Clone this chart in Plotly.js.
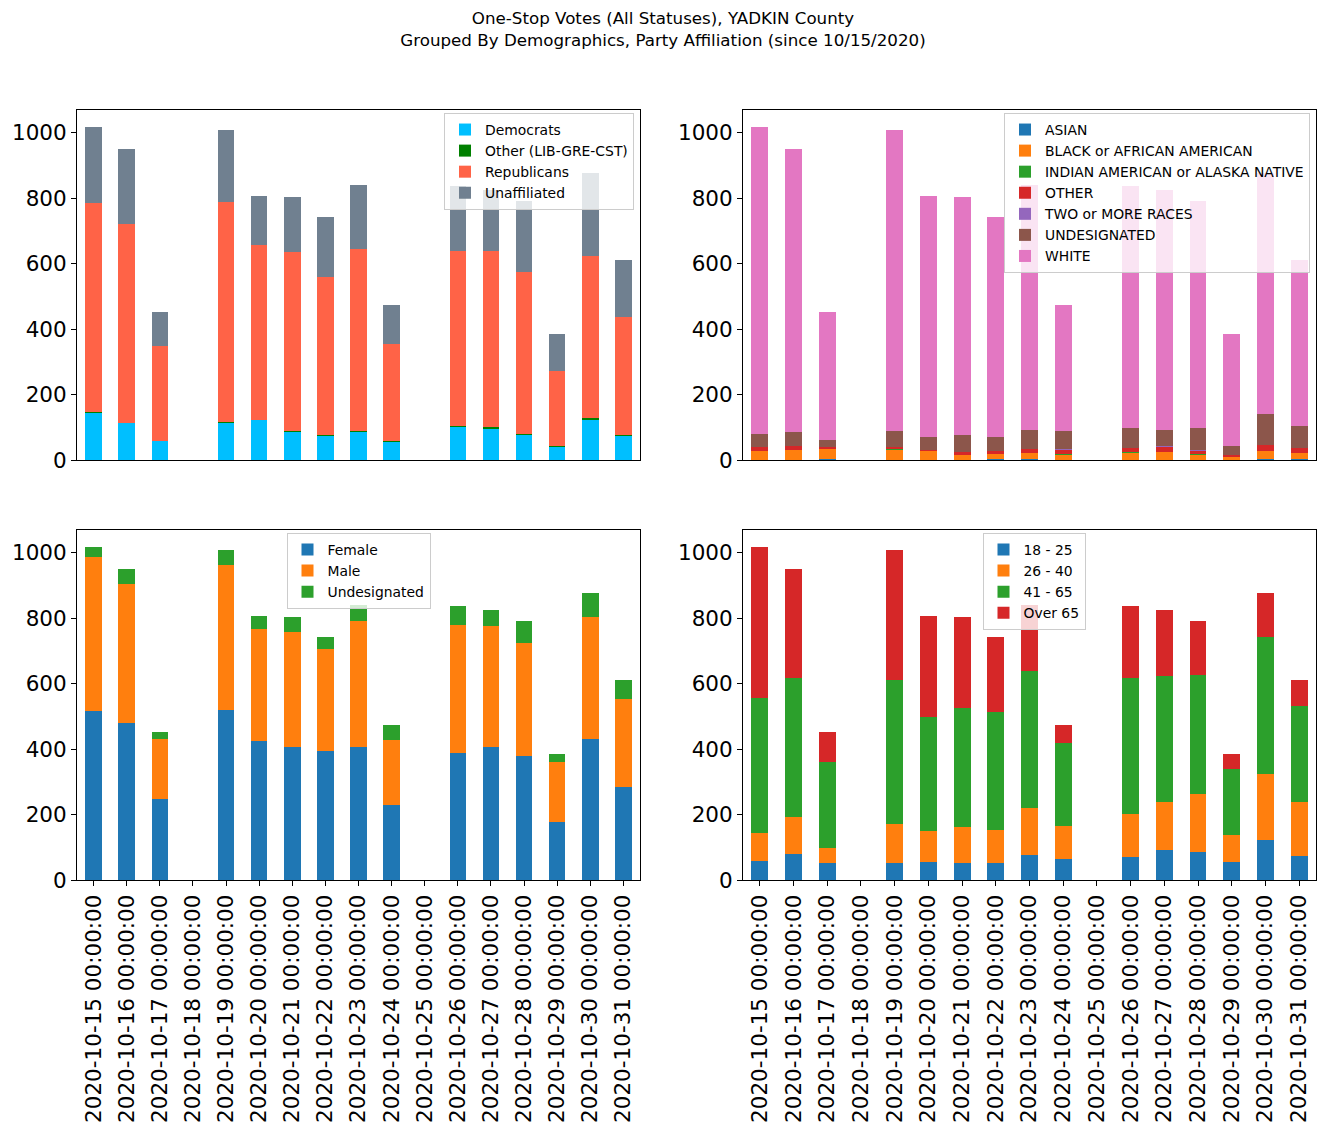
<!DOCTYPE html>
<html>
<head>
<meta charset="utf-8">
<script src="https://cdn.plot.ly/plotly-3.0.1.min.js"></script>
<style>html,body{margin:0;padding:0;background:#fff;}#chart{width:1326px;height:1137px;}</style>
</head>
<body>
<div id="chart"></div>
<script>
const dates = ['2020-10-15 00:00:00','2020-10-16 00:00:00','2020-10-17 00:00:00','2020-10-18 00:00:00','2020-10-19 00:00:00','2020-10-20 00:00:00','2020-10-21 00:00:00','2020-10-22 00:00:00','2020-10-23 00:00:00','2020-10-24 00:00:00','2020-10-25 00:00:00','2020-10-26 00:00:00','2020-10-27 00:00:00','2020-10-28 00:00:00','2020-10-29 00:00:00','2020-10-30 00:00:00','2020-10-31 00:00:00'];

// Party affiliation
const democrats    = [144,113, 58,0,114,123, 87, 74, 87, 56,0,101, 95, 77, 41,123, 74];
const otherParty   = [  3,  0,  0,0,  3,  0,  3,  3,  3,  3,0,  4,  6,  3,  3,  5,  3];
const republicans  = [637,608,291,0,672,534,546,482,555,296,0,533,537,494,228,496,360];
const unaffiliated = [233,229,103,0,219,149,167,183,195,119,0,199,187,217,113,253,174];

// Race
const asian        = [  0,  0,  3,0,  0,  0,  0,  3,  3,  0,0,  0,  0,  0,  0,  3,  3];
const black        = [ 27, 31, 31,0, 31, 27, 15, 15, 18, 15,0, 22, 24, 15,  9, 24, 18];
const indian       = [  0,  0,  0,0,  4,  0,  0,  0,  0,  3,0,  2,  0,  3,  0,  0,  0];
const otherRace    = [ 13, 12,  6,0,  5,  4,  8,  9, 13, 12,0, 13, 16, 10,  6, 19, 16];
const twoOrMore    = [  0,  0,  0,0,  0,  0,  0,  0,  0,  4,0,  0,  3,  3,  0,  0,  0];
const undesigRace  = [ 39, 43, 21,0, 49, 39, 53, 43, 58, 55,0, 61, 49, 67, 28, 95, 67];
const white        = [938,864,391,0,919,736,727,672,748,385,0,739,733,693,342,736,507];

// Gender
const female       = [516,480,247,0,519,425,406,394,406,229,0,388,406,379,177,431,284];
const male         = [471,424,184,0,443,342,352,312,385,199,0,391,370,345,183,372,269];
const undesigGender= [ 30, 46, 21,0, 46, 39, 45, 36, 49, 46,0, 58, 49, 67, 25, 74, 58];

// Age
const age18_25     = [ 58, 79, 52,0, 52, 55, 52, 52, 76, 64,0, 70, 92, 86, 55,122, 73];
const age26_40     = [ 86,114, 46,0,119, 95,110,101,144,101,0,132,146,177, 82,202,165];
const age41_65     = [413,425,264,0,441,349,363,360,418,254,0,416,386,363,202,418,294];
const ageOver65    = [460,332, 90,0,396,307,278,229,202, 55,0,219,201,165, 46,135, 79];

const groups = [
  {ax:'', leg:'legend', series:[
    ['Democrats', democrats, '#00BFFF'],
    ['Other (LIB-GRE-CST)', otherParty, '#008000'],
    ['Republicans', republicans, '#FF6347'],
    ['Unaffiliated', unaffiliated, '#708090']]},
  {ax:'2', leg:'legend2', series:[
    ['ASIAN', asian, '#1f77b4'],
    ['BLACK or AFRICAN AMERICAN', black, '#ff7f0e'],
    ['INDIAN AMERICAN or ALASKA NATIVE', indian, '#2ca02c'],
    ['OTHER', otherRace, '#d62728'],
    ['TWO or MORE RACES', twoOrMore, '#9467bd'],
    ['UNDESIGNATED', undesigRace, '#8c564b'],
    ['WHITE', white, '#e377c2']]},
  {ax:'3', leg:'legend3', series:[
    ['Female', female, '#1f77b4'],
    ['Male', male, '#ff7f0e'],
    ['Undesignated', undesigGender, '#2ca02c']]},
  {ax:'4', leg:'legend4', series:[
    ['18 - 25', age18_25, '#1f77b4'],
    ['26 - 40', age26_40, '#ff7f0e'],
    ['41 - 65', age41_65, '#2ca02c'],
    ['Over 65', ageOver65, '#d62728']]}
];

const traces = [];
groups.forEach(g => {
  g.series.forEach(s => {
    traces.push({
      type:'bar', name:s[0], x:dates, y:s[1],
      marker:{color:s[2], line:{width:0}},
      width:0.5,
      xaxis:'x'+g.ax, yaxis:'y'+g.ax,
      legend:g.leg, hoverinfo:'skip'
    });
  });
});

const W = 1326, H = 1137;
const font = {family:'DejaVu Sans, sans-serif', color:'#000'};
const tickSize = 21.5;
function xax(domain, showLabels){
  return {
    domain:domain, type:'category', range:[-0.5,16.5],
    showline:true, mirror:true, linecolor:'#000', linewidth:1,
    ticks: showLabels ? 'outside' : '', ticklen:5, tickcolor:'#000', tickwidth:1,
    showticklabels:showLabels, tickangle:-90,
    tickfont:{family:font.family, size:tickSize, color:'#000'},
    showgrid:false, zeroline:false, fixedrange:true
  };
}
function yax(domain, anchor){
  return {
    domain:domain, anchor:anchor, range:[0,1068], tick0:0, dtick:200,
    showline:true, mirror:true, linecolor:'#000', linewidth:1,
    ticks:'outside', ticklen:5, tickcolor:'#000', tickwidth:1,
    tickfont:{family:font.family, size:tickSize, color:'#000'},
    showgrid:false, zeroline:false, fixedrange:true
  };
}
const xL = [77/W, 640/W], xR = [743/W, 1316/W];
const yT = [1-460/H, 1-110.3/H], yB = [1-880/H, 1-530.4/H];

function leg(x, y, xanchor){
  return {
    x:x, y:y, xanchor:xanchor, yanchor:'top', xref:'paper', yref:'paper',
    bgcolor:'rgba(255,255,255,0.8)', bordercolor:'#cccccc', borderwidth:1,
    font:{family:font.family, size:13.9, color:'#000'}, traceorder:'normal'
  };
}

const layout = {
  width:W, height:H,
  margin:{l:0, r:0, t:0, b:0},
  paper_bgcolor:'#fff', plot_bgcolor:'#fff',
  font:font,
  barmode:'stack', showlegend:true,
  title:{text:'One-Stop Votes (All Statuses), YADKIN County<br>Grouped By Demographics, Party Affiliation (since 10/15/2020)',
         font:{family:font.family, size:16.7, color:'#000'},
         x:0.5, xanchor:'center', xref:'paper', y:1-24/H, yref:'container', yanchor:'top'},
  xaxis: Object.assign(xax(xL,false), {anchor:'y'}),
  yaxis: yax(yT,'x'),
  xaxis2: Object.assign(xax(xR,false), {anchor:'y2'}),
  yaxis2: yax(yT,'x2'),
  xaxis3: Object.assign(xax(xL,true), {anchor:'y3'}),
  yaxis3: yax(yB,'x3'),
  xaxis4: Object.assign(xax(xR,true), {anchor:'y4'}),
  yaxis4: yax(yB,'x4'),
  legend: leg(634/W, 1-113/H, 'right'),
  legend2: leg(1310/W, 1-113/H, 'right'),
  legend3: leg(358.5/W, 1-533/H, 'center'),
  legend4: leg(1034/W, 1-533/H, 'center')
};

Plotly.newPlot('chart', traces, layout, {displayModeBar:false, staticPlot:true});
</script>
</body>
</html>
